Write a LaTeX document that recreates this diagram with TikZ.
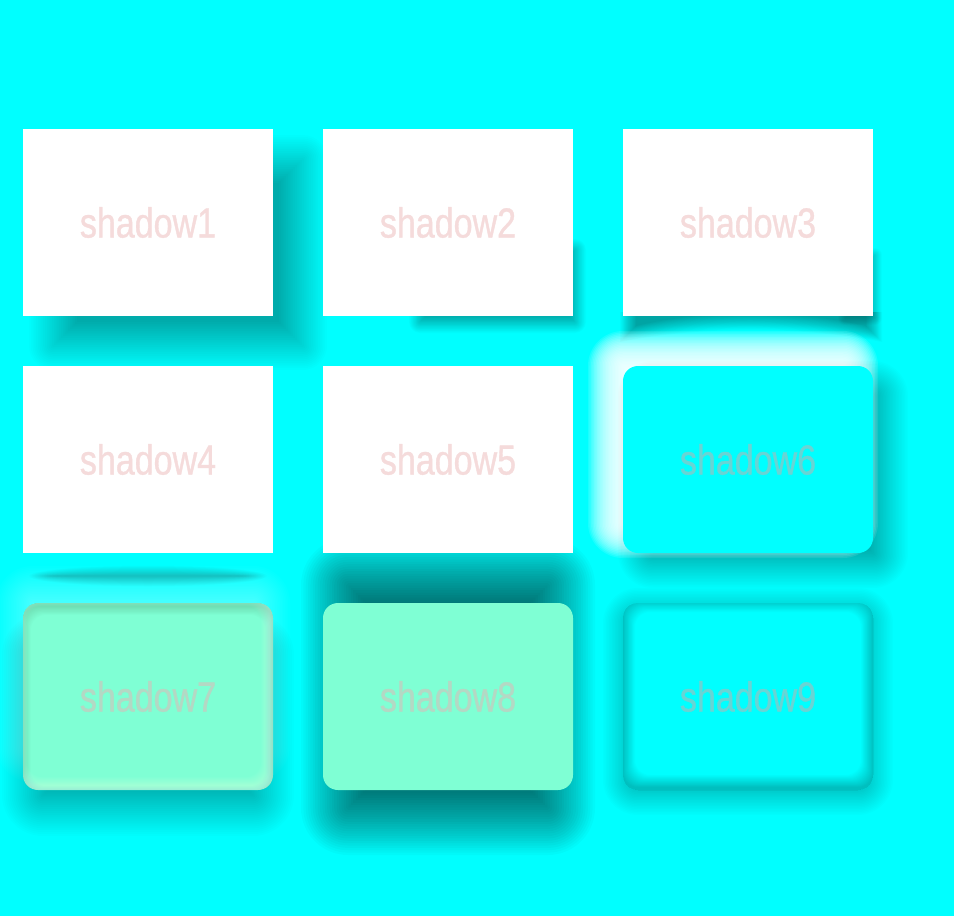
\documentclass[tikz,border=0pt]{standalone}
\usepackage{fontspec}
\setmainfont[FakeStretch=0.81, FakeBold=0.8]{Liberation Sans}
\usepackage{tikz}

\definecolor{bgCyan}{RGB}{0,255,255}
\definecolor{mint}{RGB}{127,255,212}
\definecolor{pinkText}{RGB}{245,219,219}
\definecolor{cyanText}{RGB}{105,212,212}
\definecolor{mintText}{RGB}{180,216,196}

\newcommand\softRect[8]{%
  \foreach \i in {0,...,27}{%
    \pgfmathsetmacro\d{#6*(\i/27*2-1)}%
    \pgfmathsetmacro\rc{max(#5+\d,0.01)}%
    \pgfmathsetmacro\xa{#1-\d}\pgfmathsetmacro\ya{#2-\d}%
    \pgfmathsetmacro\xb{#3+\d}\pgfmathsetmacro\yb{#4+\d}%
    \fill[#7, opacity=#8, rounded corners=\rc pt] (\xa,\ya) rectangle (\xb,\yb);
  }%
}
\newcommand\insetRect[9]{%
  \begin{scope}
    \clip[rounded corners=#5pt] (#1,#2) rectangle (#3,#4);
    \foreach \i in {0,...,15}{%
      \pgfmathsetmacro\d{#6*\i/15}%
      \pgfmathsetmacro\xa{#1+\d}\pgfmathsetmacro\ya{#2+\d}%
      \pgfmathsetmacro\xb{#3-\d}\pgfmathsetmacro\yb{#4-\d}%
      \fill[#7, opacity=#8, even odd rule] (#1-40,#2-40) rectangle (#3+40,#4+40)
        [rounded corners=#5pt] ([#9]\xa,\ya) rectangle ([#9]\xb,\yb);
    }%
  \end{scope}
}

\begin{document}
\begin{tikzpicture}[x=1pt, y=-1pt,
    cardBox/.style={minimum width=250pt, minimum height=187pt, inner sep=0pt,
        fill=white, text=pinkText, font={\fontsize{42}{42}\selectfont}},
    roundBox/.style={cardBox, rounded corners=15pt},
    cyanBox/.style={roundBox, fill=bgCyan, text=cyanText},
    mintBox/.style={roundBox, fill=mint, text=mintText},
    ]
    \useasboundingbox (0,0) rectangle (954,916);
    \fill[bgCyan] (0,0) rectangle (954,916);

    \softRect{53}{159}{303}{346}{0}{24}{black}{0.0125}
    \softRect{420}{250}{575}{322}{0}{11}{black}{0.016}
    \softRect{845}{255}{875}{318}{0}{7}{black}{0.012}
    \foreach \i in {0,...,19}{
        \pgfmathsetmacro\xa{628-8*(\i/19*2-1)}
        \pgfmathsetmacro\xb{874+8*(\i/19*2-1)}
        \pgfmathsetmacro\ya{334+8*(\i/19*2-1)}
        \pgfmathsetmacro\yc{318+8*(\i/19*2-1)}
        \fill[black, opacity=0.018] (\xa,312) -- (\xb,312) -- (\xb,\ya)
            .. controls (800,\yc) and (700,\yc) .. (\xa,\ya) -- cycle;
    }

    \foreach \i in {0,...,19}{
        \pgfmathsetmacro\rx{96+1.2*\i}
        \pgfmathsetmacro\ry{1+0.5*\i}
        \fill[black, opacity=0.011] (148,576) ellipse [x radius=\rx, y radius=\ry];
    }
    \softRect{638}{381}{888}{568}{15}{20}{black}{0.012}
    \softRect{608}{351}{858}{538}{15}{20}{white}{0.1}

    \softRect{333}{570}{563}{823}{15}{32}{black}{0.023}
    \softRect{28}{640}{268}{810}{15}{26}{black}{0.01}
    \softRect{18}{588}{268}{760}{15}{22}{white}{0.015}
    \softRect{623}{608}{873}{795}{15}{20}{black}{0.01}

    \node[cardBox] (s1) at (148,222.5) {shadow1};
    \node[cardBox] (s2) at (448,222.5) {shadow2};
    \node[cardBox] (s3) at (748,222.5) {shadow3};
    \node[cardBox] (s4) at (148,459.5) {shadow4};
    \node[cardBox] (s5) at (448,459.5) {shadow5};
    \node[cyanBox] (s6) at (748,459.5) {shadow6};
    \node[mintBox] (s7) at (148,696.5) {shadow7};
    \node[mintBox] (s8) at (448,696.5) {shadow8};
    \node[cyanBox] (s9) at (748,696.5) {shadow9};

    \insetRect{23}{603}{273}{790}{15}{8}{black}{0.009}{shift={(0,4)}}
    \insetRect{23}{603}{273}{790}{15}{8}{white}{0.022}{shift={(-4,-5)}}
    \insetRect{623}{603}{873}{790}{15}{12}{black}{0.016}{shift={(0,-3)}}
\end{tikzpicture}
\end{document}
